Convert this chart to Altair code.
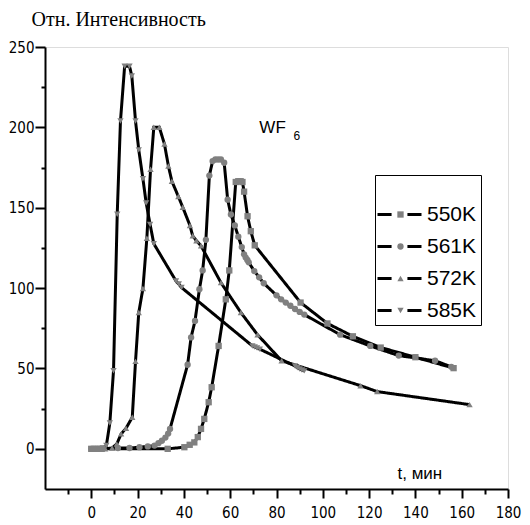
import altair as alt
import pandas as pd

SERIES = ["550K", "561K", "572K", "585K"]
SHAPES = ["square", "circle", "triangle-up", "triangle-down"]

T550 = [0, 1.5, 3, 4.5, 33, 40.2, 42.5, 44.5, 46, 47.4, 48.8, 50.7, 52, 55, 58.1, 59.6,
        62.4, 63.5, 64.5, 65.3, 66, 67.5, 68.9, 70.6, 90.4, 102, 113, 125, 140, 156.5]
Y550 = [0, 0, 0, 0, 0, 1, 2.5, 4, 7.3, 12.4, 18.6, 29, 38.3, 64, 93, 111,
        166, 166.5, 166.5, 166, 160, 144.7, 135.4, 126.6, 91, 78, 70, 63, 57, 50.2]

T561 = [0, 1.5, 3, 4.5, 11.5, 16.5, 20.8, 24.4, 27.3, 29, 30.5, 32, 33.2, 34, 41.6, 43.1,
        44.8, 46.7, 48.1, 49.5, 51, 52.4, 53.6, 54.8, 56, 57.4, 58.9, 60.3, 62, 63.5, 65,
        66, 66.7, 67.4, 68, 70.4, 72.5, 74.5, 80, 82, 84, 86, 88, 90, 92, 107.5, 120.5,
        132.8, 148.5, 155.5]
Y561 = [0, 0, 0, 0, 0.5, 0.5, 1, 1.5, 2, 3.5, 5, 7, 9.5, 12.4, 52.3, 69.3,
        79.6, 99.3, 111, 130, 170, 179, 180, 180, 180, 178, 155, 145.8, 139, 132, 125.5,
        121, 119, 117.5, 116, 110.6, 106.7, 103, 95.5, 93, 91, 89, 87, 85.2, 83.5, 71, 64,
        58, 54.8, 51]

T572 = [0, 2, 4, 6, 9, 11, 12.9, 15, 17.7, 19.1, 20.5, 22.3, 24, 25.6, 27, 29.4, 31.6,
        33.3, 34.8, 37.6, 39.5, 42.6, 43.8, 45.4, 47.4, 56, 64.6, 71.8, 82.2, 116.3,
        123.5, 163.4]
Y572 = [0, 0, 0, 0, 0.5, 3, 9.3, 12.8, 19.6, 54.4, 84.8, 99.7, 131, 174, 200, 200, 189.6,
        176, 166.5, 157, 150.3, 139, 132.5, 129.5, 126.3, 103.4, 84.8, 71, 54.8, 39.3,
        35.6, 27.5]

T585 = [0, 1, 2, 3, 4, 5, 6.5, 8, 9.6, 11.2, 12.6, 14.4, 16.5, 17.5, 19.1, 20.5, 22.3,
        23.7, 25.4, 27, 36.6, 37.8, 39, 69.6, 70.6, 71.6, 72.8, 88, 89, 90, 91, 92]
Y585 = [0, 0, 0, 0, 0, 0.5, 2, 16, 48.6, 146, 204, 238, 238, 232, 204, 186, 168,
        153, 139.6, 127.6, 104.4, 102.5, 100.3, 64, 63.3, 62.7, 62, 51.5, 50.5, 49.7, 49, 48.5]

X_MAJOR = list(range(0, 181, 20))
X_MINOR = list(range(-10, 180, 20))
Y_MAJOR = list(range(0, 251, 50))
Y_MINOR = list(range(25, 250, 50))

ANN_TEXT = ["WF", "6"]
ANN_X = [72.6, 87.3]
ANN_Y = [196.7, 192]
ANN_SIZE = [17, 12]

rows = []
for name, ts, ys in zip(SERIES, [T550, T561, T572, T585], [Y550, Y561, Y572, Y585]):
    for t, v in zip(ts, ys):
        rows.append({"t": t, "v": v, "s": name, "s2": name + " "})
df = pd.DataFrame(rows)
ann = pd.DataFrame({"txt": ANN_TEXT, "x": ANN_X, "y": ANN_Y, "fs": ANN_SIZE})

TICK_FONT = "DejaVu Sans Condensed, Liberation Sans"

x_scale = alt.Scale(domain=[-20, 180], nice=False, zero=False)
y_scale = alt.Scale(domain=[-25, 250], nice=False, zero=False)

axis_style = dict(domainColor="black", domainWidth=2, tickColor="black", tickWidth=2,
                  grid=False, labelColor="black", labelFlush=False)

x_axis = alt.Axis(
    orient="bottom", values=X_MAJOR, tickSize=9, labelFont=TICK_FONT, labelFontSize=15,
    labelPadding=7, title="t, мин", titleX=352, titleY=-11, titleAlign="left",
    titleBaseline="alphabetic", titleFont="Liberation Sans", titleFontSize=17,
    titleFontWeight="normal", titleColor="black", **axis_style,
)
y_axis = alt.Axis(
    orient="left", values=Y_MAJOR, tickSize=10, labelFont=TICK_FONT, labelFontSize=15,
    labelPadding=1, title="Отн. Интенсивность", titleAngle=0, titleX=-14, titleY=-22,
    titleAlign="left", titleBaseline="alphabetic", titleFont="Liberation Serif",
    titleFontSize=20, titleFontWeight="normal", titleColor="black", **axis_style,
)
x_minor_axis = alt.Axis(orient="bottom", values=X_MINOR, tickSize=5, labels=False,
                        domain=False, title=None, tickColor="black", tickWidth=2, grid=False)
y_minor_axis = alt.Axis(orient="left", values=Y_MINOR, tickSize=4, labels=False,
                        domain=False, title=None, tickColor="black", tickWidth=2, grid=False)

common_legend = dict(
    orient="none", legendX=330, legendY=128, title=" ", titleFontSize=14,
    titlePadding=11, padding=4, labelFont="Liberation Sans", labelFontSize=21,
    rowPadding=10, labelColor="black", labelOffset=17,
)

lines = alt.Chart(df).mark_line(color="black", strokeWidth=3).encode(
    x=alt.X("t:Q", scale=x_scale, axis=x_axis),
    y=alt.Y("v:Q", scale=y_scale, axis=y_axis),
    strokeDash=alt.StrokeDash(
        "s:N",
        scale=alt.Scale(domain=SERIES, range=[[1, 0]] * 4),
        legend=alt.Legend(
            symbolType="M-4,0H-1.44M1.44,0H4", symbolSize=121, symbolStrokeWidth=3,
            symbolStrokeColor="black", symbolOffset=10,
            strokeColor="black", fillColor="white", zindex=1, **common_legend,
        ),
    ),
    order="t:Q",
)

minor = alt.Chart(df).mark_point(opacity=0).encode(
    x=alt.X("t:Q", scale=x_scale, axis=x_minor_axis),
    y=alt.Y("v:Q", scale=y_scale, axis=y_minor_axis),
)

points = alt.Chart(df).mark_point(filled=True, color="#808080", size=40, opacity=1).encode(
    x=alt.X("t:Q", scale=x_scale, axis=None),
    y=alt.Y("v:Q", scale=y_scale, axis=None),
    shape=alt.Shape(
        "s2:N",
        scale=alt.Scale(domain=[n + " " for n in SERIES], range=SHAPES),
        legend=alt.Legend(
            symbolSize=40, symbolFillColor="#808080", symbolStrokeWidth=0,
            symbolOffset=11, labelExpr="' '", zindex=2, **common_legend,
        ),
    ),
)

labels = alt.Chart(ann).mark_text(
    align="left", baseline="alphabetic", font="Liberation Sans", color="black"
).encode(
    x=alt.X("x:Q", scale=x_scale, axis=None),
    y=alt.Y("y:Q", scale=y_scale, axis=None),
    text="txt:N",
    size=alt.Size("fs:Q", scale=None, legend=None),
)

chart = alt.layer(lines, minor, points, labels).resolve_axis(
    x="independent", y="independent"
).properties(
    width=463, height=442,
    autosize=alt.AutoSizeParams(type="none"),
    padding={"left": 37, "top": 39, "right": 14, "bottom": 35},
).configure_view(stroke=None).configure(background="white")

chart.save("out.html", embed_options={"renderer": "svg", "actions": False})
